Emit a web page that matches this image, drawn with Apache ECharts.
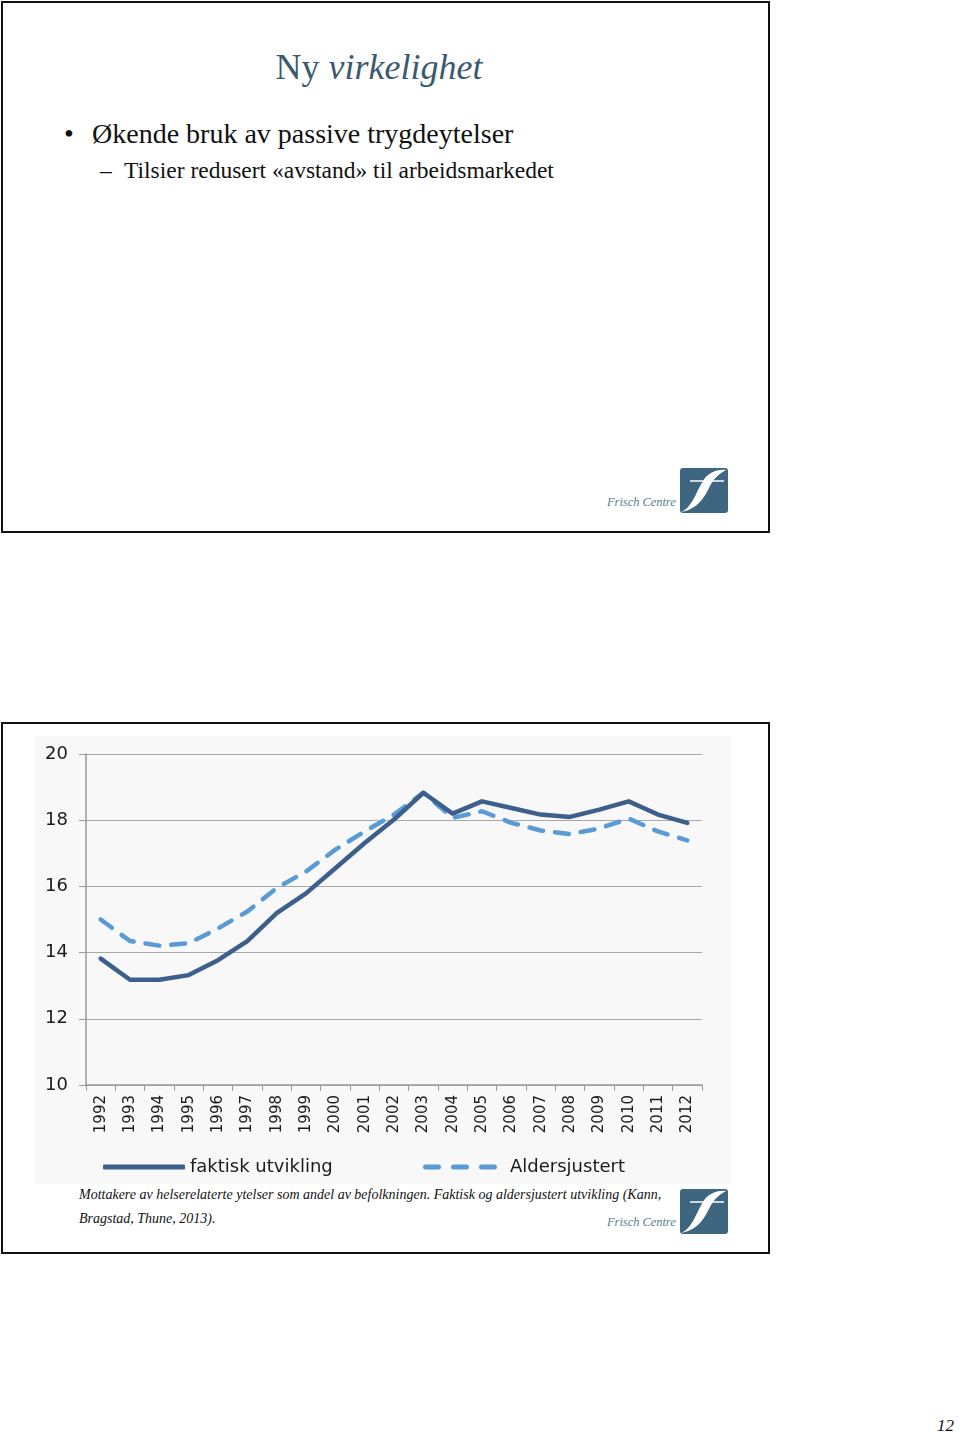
<!DOCTYPE html>
<html>
<head>
<meta charset="utf-8">
<script src="https://cdn.jsdelivr.net/npm/echarts@6/dist/echarts.min.js"></script>
<style>
  html, body { margin:0; padding:0; background:#fff; }
  body { width:960px; height:1432px; position:relative; overflow:hidden; font-family:"Liberation Serif","DejaVu Serif",serif; }
  .slide { position:absolute; left:1px; width:765px; height:528px; border:2px solid #111; background:#fff; }
  .abs { position:absolute; white-space:nowrap; }
  #chart { position:absolute; left:34px; top:736px; width:697px; height:448px; background:#f8f8f8; }
</style>
</head>
<body>
<div class="slide" style="top:1px;"></div>
<div class="slide" style="top:722px;"></div>

<div class="abs" style="left:0; width:758px; top:46px; text-align:center; font-size:36px; color:#3a5a72;">Ny <i>virkelighet</i></div>
<div class="abs" style="left:64px; top:118px; font-size:28px; color:#111;">•</div>
<div class="abs" style="left:92px; top:118px; font-size:28px; color:#111;">Økende bruk av passive trygdeytelser</div>
<div class="abs" style="left:100px; top:157px; font-size:23.5px; color:#111;">–</div>
<div class="abs" style="left:124px; top:157px; font-size:23.5px; color:#111;">Tilsier redusert «avstand» til arbeidsmarkedet</div>

<div class="abs" style="left:607px; top:495px; font-size:12.4px; font-style:italic; color:#5b7d92;">Frisch Centre</div>
<svg class="abs" style="left:680px; top:468px;" width="48" height="45" viewBox="0 0 48 45">
  <rect x="0" y="0" width="48" height="45" rx="3" fill="#3e6680"/>
  <path d="M1,44 C12,40 16,24 23,13 C28,5 36,1 46,2 C39,6 34,10 30,18 C24,30 18,41 1,44 Z" fill="#fff"/>
  <path d="M10,13 L44,13" stroke="#fff" stroke-width="1.4"/>
</svg>

<div id="chart"></div>

<div class="abs" style="left:79px; top:1187px; font-size:14px; font-style:italic; color:#111;">Mottakere av helserelaterte ytelser som andel av befolkningen. Faktisk og aldersjustert utvikling (Kann,</div>
<div class="abs" style="left:79px; top:1211px; font-size:14px; font-style:italic; color:#111;">Bragstad, Thune, 2013).</div>
<div class="abs" style="left:607px; top:1215px; font-size:12.4px; font-style:italic; color:#5b7d92;">Frisch Centre</div>
<svg class="abs" style="left:680px; top:1189px;" width="48" height="45" viewBox="0 0 48 45">
  <rect x="0" y="0" width="48" height="45" rx="3" fill="#3e6680"/>
  <path d="M1,44 C12,40 16,24 23,13 C28,5 36,1 46,2 C39,6 34,10 30,18 C24,30 18,41 1,44 Z" fill="#fff"/>
  <path d="M10,13 L44,13" stroke="#fff" stroke-width="1.4"/>
</svg>

<div class="abs" style="left:937px; top:1416px; font-size:17px; font-style:italic; color:#111;">12</div>

<script>
const years = ['1992','1993','1994','1995','1996','1997','1998','1999','2000','2001','2002','2003','2004','2005','2006','2007','2008','2009','2010','2011','2012'];
const faktisk = [13.82,13.18,13.18,13.32,13.77,14.35,15.19,15.79,16.55,17.31,18.02,18.83,18.20,18.57,18.37,18.17,18.10,18.32,18.57,18.17,17.92];
const aldersjustert = [15.00,14.35,14.21,14.28,14.73,15.24,15.95,16.45,17.11,17.66,18.17,18.83,18.07,18.27,17.92,17.69,17.58,17.75,18.05,17.66,17.39];
const yTicks = [10,12,14,16,18,20];
const seriesNames = ['faktisk utvikling','Aldersjustert'];

const chart = echarts.init(document.getElementById('chart'), null, {renderer:'canvas'});
const labelFont = '"DejaVu Sans", Verdana, sans-serif';
const dashIcon = 'path://M2.5,0 H15.5 A2.5,2.5 0 0 1 15.5,5 H2.5 A2.5,2.5 0 0 1 2.5,0 Z M30.5,0 H43.5 A2.5,2.5 0 0 1 43.5,5 H30.5 A2.5,2.5 0 0 1 30.5,0 Z M58.5,0 H71.5 A2.5,2.5 0 0 1 71.5,5 H58.5 A2.5,2.5 0 0 1 58.5,0 Z';
chart.setOption({
  animation:false,
  backgroundColor:'#f8f8f8',
  grid:{left:52, right:29, top:18, bottom:99},
  legend:[
    {data:[{name:seriesNames[0], icon:'roundRect'}], left:69, top:422, padding:0, itemWidth:82, itemHeight:5, itemGap:0,
     textStyle:{fontFamily:labelFont, fontSize:18, color:'#1a1a1a'}},
    {data:[{name:seriesNames[1], icon:dashIcon}], left:389, top:422, padding:0, itemWidth:74, itemHeight:5, itemGap:0,
     textStyle:{fontFamily:labelFont, fontSize:18, color:'#1a1a1a', padding:[0,0,0,8]}}
  ],
  xAxis:{
    type:'category', data:years, boundaryGap:true,
    axisLine:{lineStyle:{color:'#9a9a9a', width:1.5}},
    axisTick:{show:true, length:6, alignWithLabel:false, lineStyle:{color:'#9a9a9a'}},
    axisLabel:{rotate:90, margin:10, fontFamily:labelFont, fontSize:15, color:'#1a1a1a', interval:0}
  },
  yAxis:{
    type:'value', min:yTicks[0], max:yTicks[yTicks.length-1], interval:2,
    axisLine:{show:true, lineStyle:{color:'#9a9a9a', width:1.5}},
    axisTick:{show:true, length:7, lineStyle:{color:'#9a9a9a'}},
    axisLabel:{margin:18, fontFamily:labelFont, fontSize:18, color:'#1a1a1a', verticalAlign:'middle', padding:[7,0,0,0]},
    splitLine:{lineStyle:{color:'#a8a8a8', width:1.2}}
  },
  series:[
    {name:seriesNames[0], type:'line', data:faktisk, symbol:'none', z:3,
     lineStyle:{color:'#3d5f8b', width:4.5, cap:'round', join:'round'}, itemStyle:{color:'#3d5f8b'}},
    {name:seriesNames[1], type:'line', data:aldersjustert, symbol:'none', z:2,
     lineStyle:{color:'#5b9bd5', width:4.5, type:[14,12], cap:'round', join:'round'}, itemStyle:{color:'#5b9bd5'}}
  ]
});
</script>
</body>
</html>
